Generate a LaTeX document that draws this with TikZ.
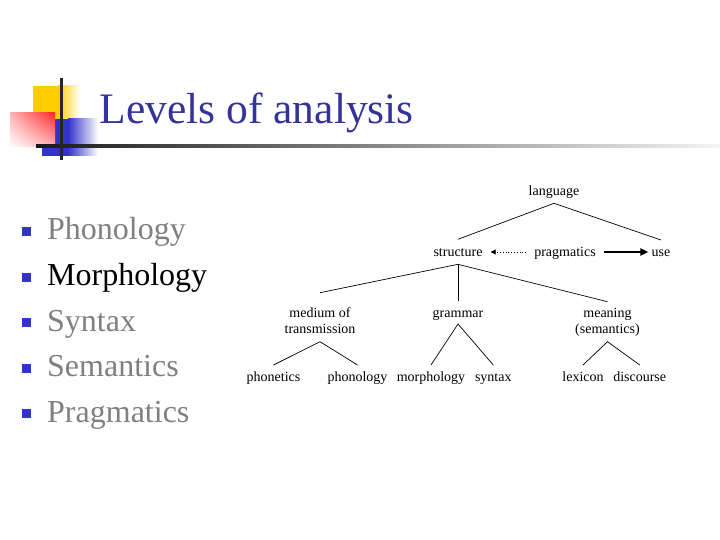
\documentclass[tikz,border=0pt]{standalone}
\usepackage{fontspec}
\setmainfont{Liberation Serif}
\usetikzlibrary{arrows.meta,shadings}
\definecolor{titleblue}{RGB}{51,51,153}
\definecolor{bulletblue}{RGB}{51,51,204}
\definecolor{itemgray}{RGB}{128,128,128}
\definecolor{gold}{RGB}{255,204,0}
\definecolor{sqblue}{RGB}{51,51,204}
\definecolor{sqred}{RGB}{255,40,40}
\begin{document}
\begin{tikzpicture}[x=1pt,y=-1pt,
 tnode/.style={font=\fontsize{14}{16}\selectfont, inner sep=0pt, anchor=base, align=center},
 item/.style={font=\fontsize{32}{38}\selectfont, text=itemgray, anchor=base west, inner sep=0pt},
 bulletsq/.style={fill=bulletblue, minimum size=9pt, inner sep=0pt},
 branch/.style={line width=0.7pt},
]
\useasboundingbox (0,0) rectangle (720,540);
% decoration
\fill[gold] (33,86) rectangle (58,119);
\shade[left color=gold, right color=white] (58,86) rectangle (80,119);
\fill[sqblue] (42,119) rectangle (68,156);
\shade[left color=sqblue, right color=white] (68,119) rectangle (98,156);
\shade[upper left=sqred!35, upper right=sqred, lower left=white, lower right=sqred!35] (10,113) rectangle (55,147);
\shade[left color=black!90, right color=black!4] (36,144.3) rectangle (720,147.7);
\draw[line width=3pt, color=black!85] (61,78) -- (61,160);
% title
\node[font=\fontsize{43.5}{50}\selectfont, text=titleblue, anchor=base west, inner sep=0pt] (title) at (99.5,124) {Levels of analysis};
% bullets
\node[bulletsq] (b1) at (26.5,231.5) {};
\node[bulletsq] (b2) at (26.5,277) {};
\node[bulletsq] (b3) at (26.5,322.5) {};
\node[bulletsq] (b4) at (26.5,368) {};
\node[bulletsq] (b5) at (26.5,413.5) {};
\node[item] (i1) at (47,239.3) {Phonology};
\node[item, text=black] (i2) at (47,285.2) {Morphology};
\node[item] (i3) at (47,331) {Syntax};
\node[item] (i4) at (47,376.9) {Semantics};
\node[item] (i5) at (47,422.7) {Pragmatics};
% tree
\node[tnode] (language) at (554,196) {language};
\node[tnode] (structure) at (458,256) {structure};
\node[tnode] (pragmatics) at (565,256) {pragmatics};
\node[tnode] (use) at (661,256) {use};
\node[tnode] (medium) at (320,333.3) {medium of\\transmission};
\node[tnode] (grammar) at (458,317) {grammar};
\node[tnode] (meaning) at (607.5,333) {meaning\\(semantics)};
\node[tnode] (phonetics) at (273.5,381.7) {phonetics};
\node[tnode] (phonology) at (357.5,381.7) {phonology};
\node[tnode] (morphology) at (431,381.7) {morphology};
\node[tnode] (syntax) at (493.3,381.7) {syntax};
\node[tnode] (lexicon) at (583,381.7) {lexicon};
\node[tnode] (discourse) at (639.7,381.7) {discourse};
% branches
\draw[branch] ([yshift=16.7pt]structure.base) -- ([yshift=-7.3pt]language.base) -- ([yshift=16pt]use.base);
\draw[branch] ([yshift=40.6pt]medium.base) -- ([yshift=-8.3pt]structure.base) -- ([yshift=31.3pt]meaning.base);
\draw[branch] ([yshift=-8.3pt]structure.base) -- ([yshift=16pt]grammar.base);
\draw[branch] ([yshift=16.7pt]phonetics.base) -- ([yshift=-8.4pt]medium.base) -- ([yshift=16.7pt]phonology.base);
\draw[branch] ([yshift=16.7pt]morphology.base) -- ([yshift=-7pt]grammar.base) -- ([yshift=16.7pt]syntax.base);
\draw[branch] ([yshift=16.7pt]lexicon.base) -- ([yshift=-8.7pt]meaning.base) -- ([yshift=16.7pt]discourse.base);
% arrows
\draw[line width=2pt, -{Triangle[length=8pt,width=7pt]}, shorten <=8pt, shorten >=3pt] ([yshift=4pt]pragmatics.base east) -- ([yshift=4pt]use.base west);
\draw[dotted, line width=0.8pt, -{Triangle[length=5pt,width=5pt]}, shorten <=8pt, shorten >=8pt] ([yshift=4pt]pragmatics.base west) -- ([yshift=4pt]structure.base east);
\end{tikzpicture}
\end{document}
